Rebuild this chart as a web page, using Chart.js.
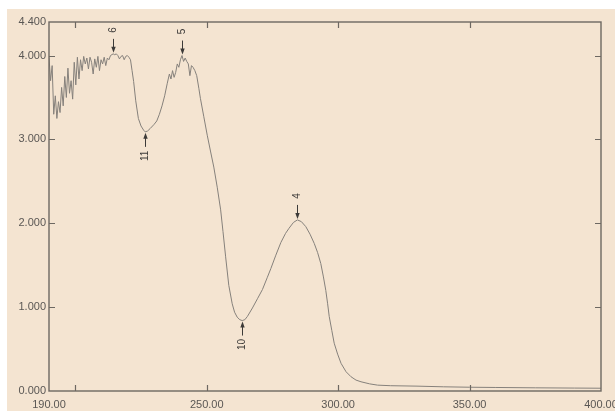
<!DOCTYPE html>
<html>
<head>
<meta charset="utf-8">
<script src="https://cdn.jsdelivr.net/npm/chart.js@4/dist/chart.umd.min.js"></script>
<style>
  html, body { margin: 0; padding: 0; background: #ffffff; }
  #wrap { position: absolute; left: 7px; top: 9px; width: 608px; height: 402px; background: #f4e4d1; }
  canvas { display: block; }
</style>
</head>
<body>
<div id="wrap"><canvas id="spec" width="608" height="402"></canvas></div>
<script>
// UV absorption spectrum: wavelength (nm) and absorbance
const wavelengths = [
  190.0, 190.6, 191.2, 191.8, 192.4, 193.0, 193.6, 194.2, 194.8, 195.4,
  196.0, 196.6, 197.2, 197.8, 198.4, 199.0, 199.6, 200.2, 200.8, 201.4,
  202.0, 202.6, 203.2, 203.8, 204.4, 205.0, 205.6, 206.2, 206.8, 207.4,
  208.0, 208.6, 209.2, 209.8, 210.4, 211.0, 211.6, 212.2, 212.8, 213.4,
  214.4, 215.0, 215.6, 216.2, 216.8, 217.4, 218.0, 218.6, 219.2, 219.8,
  220.4, 221.0, 221.6, 222.2, 223.0, 224.0, 225.0, 226.0, 226.6, 227.5,
  228.5, 230.0, 231.0, 232.0, 233.0, 234.0, 235.0, 235.8, 236.4, 237.0,
  237.6, 238.2, 238.8, 239.4, 240.0, 240.6, 241.2, 241.8, 242.4, 243.0,
  243.6, 244.2, 244.8, 245.5, 246.2, 247.0, 247.6, 248.9, 250.2, 251.5,
  252.7, 254.0, 255.3, 256.2, 257.2, 258.4, 259.7, 260.6, 261.6, 262.6,
  263.5, 264.5, 265.5, 267.4, 269.3, 271.2, 273.0, 274.4, 276.3, 278.2,
  280.0, 281.3, 283.0, 284.5, 286.0, 287.7, 289.3, 290.9, 292.2, 293.4,
  294.4, 295.3, 296.0, 296.6, 297.6, 298.5, 299.8, 301.1, 303.0, 304.9,
  306.8, 308.7, 312.0, 315.0, 320.0, 330.0, 340.0, 350.0, 360.0, 375.0,
  390.0, 400.0
];
const absorbance = [
  3.98, 3.70, 3.88, 3.30, 3.52, 3.25, 3.45, 3.32, 3.62, 3.40,
  3.75, 3.50, 3.85, 3.55, 3.70, 3.48, 3.92, 3.65, 3.98, 3.72,
  3.95, 3.82, 3.99, 3.90, 3.97, 3.84, 3.98, 3.92, 3.78, 3.96,
  3.86, 3.99, 3.82, 3.95, 3.90, 3.98, 3.88, 3.97, 3.95, 4.00,
  4.02, 4.01, 4.02, 4.00, 3.96, 3.99, 4.00, 3.95, 3.99, 4.00,
  3.98, 3.95, 3.82, 3.69, 3.46, 3.25, 3.16, 3.11, 3.09, 3.10,
  3.13, 3.18, 3.22, 3.30, 3.40, 3.52, 3.67, 3.78, 3.72, 3.82,
  3.74, 3.80, 3.90, 3.86, 3.95, 4.00, 3.93, 3.97, 3.93, 3.90,
  3.76, 3.88, 3.86, 3.82, 3.76, 3.61, 3.49, 3.27, 3.05, 2.85,
  2.67, 2.43, 2.16, 1.90, 1.60, 1.26, 1.04, 0.94, 0.88, 0.85,
  0.84, 0.85, 0.89, 0.99, 1.10, 1.21, 1.35, 1.46, 1.62, 1.77,
  1.88, 1.94, 2.01, 2.04, 2.02, 1.96, 1.87, 1.76, 1.65, 1.52,
  1.36, 1.20, 1.04, 0.89, 0.72, 0.57, 0.44, 0.33, 0.23, 0.17,
  0.13, 0.11, 0.085, 0.07, 0.063, 0.058, 0.050, 0.045, 0.042, 0.038,
  0.035, 0.033
];

// axis ticks
const xTickLabels = [190, 250, 300, 350, 400];
const xTickMarks = [200, 250, 300, 350];
const yTickLabels = [0, 1, 2, 3, 4, 4.4];
const yTickMarks = [1, 2, 3, 4];

// picked peaks and valleys
const peakNumbers = ['6', '5', '11', '4', '10'];
const peakWavelengths = [214.4, 240.6, 226.6, 284.5, 263.5];
const peakValues = [4.02, 4.00, 3.09, 2.04, 0.84];
const peakKinds = ['peak', 'peak', 'valley', 'peak', 'valley'];

const AXIS_COLOR = '#6d6862';
const TEXT_COLOR = '#5a5754';

const framePlugin = {
  id: 'frame',
  afterDraw(chart) {
    const { ctx, chartArea: a, scales: { x, y } } = chart;
    ctx.save();
    ctx.strokeStyle = AXIS_COLOR;
    ctx.lineWidth = 1.4;
    ctx.strokeRect(a.left, a.top, a.right - a.left, a.bottom - a.top);
    ctx.lineWidth = 1.2;
    const t = 6;
    ctx.beginPath();
    xTickMarks.forEach(v => {
      const px = Math.round(x.getPixelForValue(v)) + 0.5;
      ctx.moveTo(px, a.bottom); ctx.lineTo(px, a.bottom - t);
      ctx.moveTo(px, a.top); ctx.lineTo(px, a.top + t);
    });
    yTickMarks.forEach(v => {
      const py = Math.round(y.getPixelForValue(v)) + 0.5;
      ctx.moveTo(a.left, py); ctx.lineTo(a.left + t, py);
      ctx.moveTo(a.right, py); ctx.lineTo(a.right - t, py);
    });
    ctx.stroke();

    // peak / valley markers
    ctx.strokeStyle = '#3c3a38';
    ctx.fillStyle = '#3c3a38';
    ctx.lineWidth = 1;
    ctx.font = '10px "Liberation Sans", Arial, sans-serif';
    ctx.textAlign = 'center';
    ctx.textBaseline = 'middle';
    peakNumbers.forEach((label, i) => {
      const px = Math.round(x.getPixelForValue(peakWavelengths[i])) + 0.5;
      const py = y.getPixelForValue(peakValues[i]);
      const dir = peakKinds[i] === 'peak' ? -1 : 1;
      const tip = py + dir * 1;
      ctx.beginPath();
      ctx.moveTo(px, tip + dir * 14);
      ctx.lineTo(px, tip + dir * 4);
      ctx.stroke();
      ctx.beginPath();
      ctx.moveTo(px, tip);
      ctx.lineTo(px - 2.2, tip + dir * 6);
      ctx.lineTo(px + 2.2, tip + dir * 6);
      ctx.closePath();
      ctx.fill();
      ctx.save();
      ctx.translate(px, py + dir * 24);
      ctx.rotate(-Math.PI / 2);
      ctx.fillText(label, 0, 0);
      ctx.restore();
    });
    ctx.restore();
  }
};

new Chart(document.getElementById('spec'), {
  type: 'line',
  data: {
    datasets: [{
      data: wavelengths.map((w, i) => ({ x: w, y: absorbance[i] })),
      borderColor: '#85807b',
      borderWidth: 1,
      pointRadius: 0,
      tension: 0
    }]
  },
  options: {
    responsive: false,
    animation: false,
    layout: { padding: { top: 13, right: 14, left: 0, bottom: 0 } },
    plugins: { legend: { display: false }, tooltip: { enabled: false } },
    scales: {
      x: {
        type: 'linear',
        min: 190,
        max: 400,
        grid: { display: false, drawTicks: false },
        border: { display: false },
        afterBuildTicks: s => { s.ticks = xTickLabels.map(v => ({ value: v })); },
        afterFit: s => { s.height = 20; s.paddingLeft = 0; s.paddingRight = 0; },
        ticks: {
          padding: 7,
          autoSkip: false,
          maxRotation: 0,
          color: TEXT_COLOR,
          font: { family: '"Liberation Sans", Arial, sans-serif', size: 11 },
          callback: v => Number(v).toFixed(2)
        }
      },
      y: {
        type: 'linear',
        min: 0,
        max: 4.4,
        grid: { display: false, drawTicks: false },
        border: { display: false },
        afterBuildTicks: s => { s.ticks = yTickLabels.map(v => ({ value: v })); },
        afterFit: s => { s.width = 42; s.paddingTop = 0; s.paddingBottom = 0; },
        ticks: {
          padding: 3,
          autoSkip: false,
          color: TEXT_COLOR,
          font: { family: '"Liberation Sans", Arial, sans-serif', size: 11 },
          callback: v => Number(v).toFixed(3)
        }
      }
    }
  },
  plugins: [framePlugin]
});
</script>
</body>
</html>
